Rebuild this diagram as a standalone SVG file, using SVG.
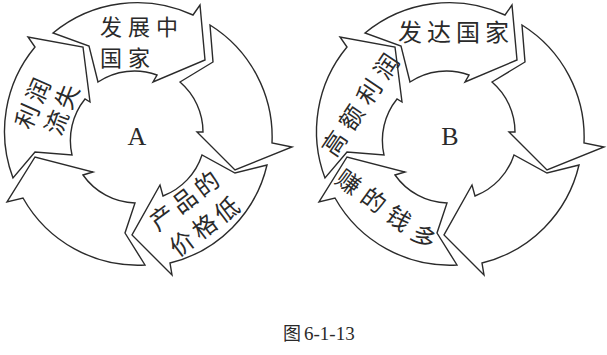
<svg xmlns="http://www.w3.org/2000/svg" xmlns:xlink="http://www.w3.org/1999/xlink" width="607" height="355" viewBox="0 0 607 355">
<style>
.seg{fill:#fff;stroke:#2b2b2b;stroke-width:1.4;stroke-linejoin:miter}
.cn{font-family:"Noto Sans CJK SC","Noto Sans CJK JP",sans-serif;font-size:24px;fill:#2a2a2a;letter-spacing:4px}
.rt{text-anchor:middle;dominant-baseline:central}
.lt{font-family:"Liberation Serif",serif;font-size:26px;fill:#2a2a2a;text-anchor:middle}
.capcn{font-family:"Noto Sans CJK SC",sans-serif;font-size:18px;fill:#2a2a2a}
.capnum{font-family:"Liberation Serif",serif;font-size:19px;fill:#2a2a2a}
</style>
<defs>
<path id="seg-top" d="M53,33 A132,132 0 0 1 193,15 L200,5 L205,60 L153,82 L157,75 A66,66 0 0 0 98,82 L89,46 Z"/>
<path id="seg-right" d="M210,25 A132,132 0 0 1 272,143 L292,147 L235,170 L197,132 L203,132 A66,66 0 0 0 180,82 L213,62 Z"/>
<path id="seg-br" d="M267,165 A132,132 0 0 1 170,263 L172,275 L132,235 L160,185 L163,196 A66,66 0 0 0 202,155 L235,173 Z"/>
<path id="seg-bl" d="M145,265 A132,132 0 0 1 23,198 L7,202 L35,157 L93,172 L83,175 A66,66 0 0 0 135,203 L125,233 Z"/>
<path id="seg-left" d="M13,178 A132,132 0 0 1 35,47 L28,37 L83,47 L90,102 L85,99 A66,66 0 0 0 72,155 L35,152 Z"/>
</defs>
<rect width="607" height="355" fill="#fff"/>
<g id="connectors"/>
<g id="cycleA">
  <g id="A-top"><use xlink:href="#seg-top" class="seg"/>
    <text class="cn" dominant-baseline="central" style="font-size:22px;letter-spacing:6px"><tspan x="100" y="25">发展中</tspan><tspan x="100" y="56">国家</tspan></text></g>
  <g id="A-right"><use xlink:href="#seg-right" class="seg"/></g>
  <g id="A-bottomright"><use xlink:href="#seg-br" class="seg"/>
    <text class="cn rt" transform="translate(185,198) rotate(-37)">产品的</text>
    <text class="cn rt" transform="translate(205,224) rotate(-37)">价格低</text></g>
  <g id="A-bottomleft"><use xlink:href="#seg-bl" class="seg"/></g>
  <g id="A-left"><use xlink:href="#seg-left" class="seg"/>
    <text class="cn rt" transform="translate(32,101) rotate(-66)">利润</text>
    <text class="cn rt" transform="translate(61,107) rotate(-68)">流失</text></g>
  <g id="A-center"><text class="lt" x="137" y="145">A</text></g>
</g>
<g id="cycleB" transform="translate(312,0)">
  <g id="B-top"><use xlink:href="#seg-top" class="seg"/>
    <text class="cn" x="86" y="30" dominant-baseline="central" style="letter-spacing:5px">发达国家</text></g>
  <g id="B-right"><use xlink:href="#seg-right" class="seg"/></g>
  <g id="B-bottomright"><use xlink:href="#seg-br" class="seg"/></g>
  <g id="B-bottomleft"><use xlink:href="#seg-bl" class="seg"/>
    <text class="cn rt" transform="translate(78,210) rotate(36)" style="letter-spacing:7px">赚的钱多</text></g>
  <g id="B-left"><use xlink:href="#seg-left" class="seg"/>
    <text class="cn rt" transform="translate(49,101) rotate(-56)" style="letter-spacing:7px">高额利润</text></g>
  <g id="B-center"><text class="lt" x="138" y="145">B</text></g>
</g>
<g id="caption">
  <text class="capcn" x="283" y="340">图</text>
  <text class="capnum" x="304" y="340">6-1-13</text>
</g>
</svg>
